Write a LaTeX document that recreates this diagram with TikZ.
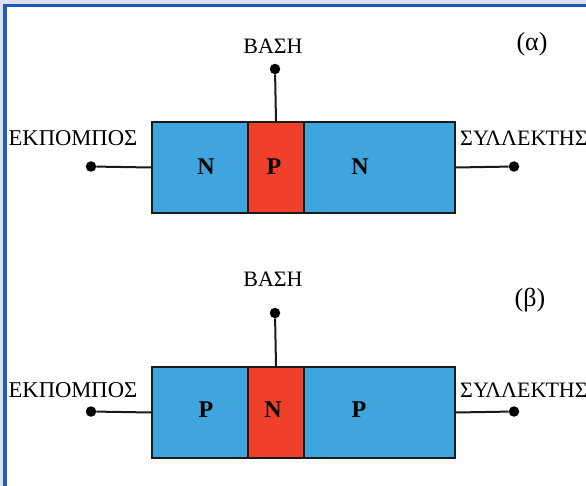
\documentclass[tikz,border=0pt]{standalone}
\usepackage{fontspec}
\setmainfont{Liberation Serif}
\definecolor{nblue}{HTML}{40A4DE}
\definecolor{pred}{HTML}{F0402A}
\definecolor{framelight}{HTML}{DCE0F2}
\definecolor{frameblue}{HTML}{1E5BB5}
\definecolor{edge}{HTML}{1A1A1A}
\begin{document}
\begin{tikzpicture}[x=1pt,y=-1pt,
  region/.style={draw=edge,line width=2pt,rectangle,anchor=north west,inner sep=0pt,minimum height=91pt},
  lead/.style={draw=edge,line width=2pt},
  dot/.style={circle,fill=black,inner sep=0pt,minimum size=10.5pt},
  lay/.style={font=\fontsize{24}{24}\selectfont\bfseries,inner sep=0pt},
  emtxt/.style={font=\fontsize{22.6}{22.6}\selectfont,inner sep=0pt},
  coltxt/.style={font=\fontsize{22}{22}\selectfont,inner sep=0pt},
  basetxt/.style={font=\fontsize{22}{22}\selectfont,inner sep=0pt},
  tag/.style={font=\fontsize{26}{26}\selectfont,inner sep=0pt}]
\useasboundingbox (0,0) rectangle (586,486);
\fill[white] (0,0) rectangle (586,486);
\fill[framelight] (0,0) rectangle (586,4);
\fill[framelight] (0,0) rectangle (3,486);
\fill[frameblue] (3,4) rectangle (586,7.5);
\fill[frameblue] (3,4) rectangle (6.5,486);
% (alpha) NPN
\node[region,fill=nblue,minimum width=96pt] (a1) at (151,121) {};
\node[region,fill=pred,minimum width=56pt] (a2) at (247,121) {};
\node[region,fill=nblue,minimum width=151pt] (a3) at (303,121) {};
\node[lay] (a1t) at (206,167) {N};
\node[lay] (a2t) at (274,167) {P};
\node[lay] (a3t) at (360,167) {N};
\node[dot] (ab) at (275,69) {};
\node[dot] (ae) at (91,166.5) {};
\node[dot] (ac) at (514,166.5) {};
\draw[lead] (ab) -- (a2.north);
\draw[lead] (ae) -- (a1.west);
\draw[lead] (a3.east) -- (ac);
\node[basetxt] (abl) at (273,46) {ΒΑΣΗ};
\node[emtxt,anchor=east] (ael) at (137.5,138) {ΕΚΠΟΜΠΟΣ};
\node[coltxt,anchor=west] (acl) at (460,138) {ΣΥΛΛΕΚΤΗΣ};
\node[tag] (atag) at (532,44) {(α)};
% (beta) PNP
\node[region,fill=nblue,minimum width=96pt] (b1) at (151,366) {};
\node[region,fill=pred,minimum width=56pt] (b2) at (247,366) {};
\node[region,fill=nblue,minimum width=151pt] (b3) at (303,366) {};
\node[lay] (b1t) at (206,410) {P};
\node[lay] (b2t) at (273,410) {N};
\node[lay] (b3t) at (359,410) {P};
\node[dot] (bb) at (275,313) {};
\node[dot] (be) at (91,411.5) {};
\node[dot] (bc) at (514,411.5) {};
\draw[lead] (bb) -- (b2.north);
\draw[lead] (be) -- (b1.west);
\draw[lead] (b3.east) -- (bc);
\node[basetxt] (bbl) at (273,279) {ΒΑΣΗ};
\node[emtxt,anchor=east] (bel) at (137.5,390) {ΕΚΠΟΜΠΟΣ};
\node[coltxt,anchor=west] (bcl) at (460,390) {ΣΥΛΛΕΚΤΗΣ};
\node[tag] (btag) at (530,300) {(β)};
\end{tikzpicture}
\end{document}
